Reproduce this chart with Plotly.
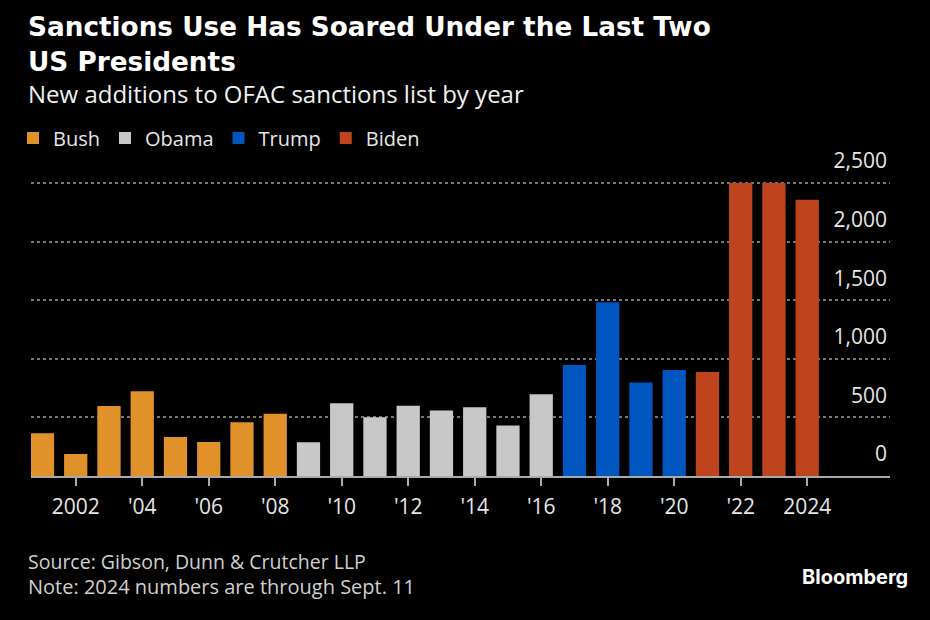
import plotly.graph_objects as go

# ---- data ----
years_bush = [2001, 2002, 2003, 2004, 2005, 2006, 2007, 2008]
vals_bush = [364, 188, 597, 723, 333, 290, 458, 532]
years_obama = [2009, 2010, 2011, 2012, 2013, 2014, 2015, 2016]
vals_obama = [288, 620, 501, 600, 558, 586, 430, 697]
years_trump = [2017, 2018, 2019, 2020]
vals_trump = [947, 1482, 797, 905]
years_biden = [2021, 2022, 2023, 2024]
vals_biden = [887, 2500, 2500, 2358]

x_tickvals = [2002, 2004, 2006, 2008, 2010, 2012, 2014, 2016, 2018, 2020, 2022, 2024]
x_ticktext = ["2002", "'04", "'06", "'08", "'10", "'12", "'14", "'16", "'18", "'20", "'22", "2024"]
y_tickvals = [0, 500, 1000, 1500, 2000, 2500]
y_ticktext = ["0", "500", "1,000", "1,500", "2,000", "2,500"]

series = [
    ("Bush", years_bush, vals_bush, "#E0912A"),
    ("Obama", years_obama, vals_obama, "#C8C8C8"),
    ("Trump", years_trump, vals_trump, "#0055BF"),
    ("Biden", years_biden, vals_biden, "#BE441E"),
]

W, H = 930, 620
L, R, T, B = 31, 40, 140, 144
PW, PH = W - L - R, H - T - B
YTOP = 2500 * PH / (H - B - 183)   # 2,500 gridline sits at y=183 px

def px(xpx):
    return (xpx - L) / PW

def py(ypx):
    return (H - B - ypx) / PH

REG = "Open Sans, Noto Sans, sans-serif"
BOLD = "DejaVu Sans, sans-serif"

fig = go.Figure()
for name, xs, ys, col in series:
    fig.add_trace(go.Bar(x=xs, y=ys, name=name, marker=dict(color=col, line=dict(width=0)),
                         width=0.7))

fig.update_layout(
    width=W, height=H,
    margin=dict(l=L, r=R, t=T, b=B, pad=0, autoexpand=False),
    paper_bgcolor="black", plot_bgcolor="black",
    showlegend=True,
    legend=dict(orientation="h", xref="container", yref="container",
                x=13 / W, y=1 - 138 / H, xanchor="left", yanchor="middle",
                font=dict(family=REG, size=20, color="#e6e6e6"),
                bgcolor="rgba(0,0,0,0)", traceorder="normal"),
    bargap=0.3,
    xaxis=dict(range=[2000.655, 2026.49], tickvals=x_tickvals, ticktext=x_ticktext,
               showgrid=False, zeroline=False, showline=True, linecolor="#aaaaaa", linewidth=2,
               ticks="outside", ticklen=8, tickwidth=1.5, tickcolor="#aaaaaa",
               ticklabelstandoff=3,
               tickfont=dict(family=REG, size=21, color="#e6e6e6"), fixedrange=True),
    yaxis=dict(range=[0, YTOP], side="right", tickvals=y_tickvals, ticktext=y_ticktext,
               ticklabelposition="inside", ticklabelshift=-22, ticks="",
               showgrid=True, gridcolor="#777777", gridwidth=1.5, griddash="dot",
               zeroline=False, showline=False,
               tickfont=dict(family=REG, size=21, color="#e6e6e6"), fixedrange=True),
)

annotations = [
    dict(text="<b>Sanctions Use Has Soared Under the Last Two</b>", x=px(26), y=py(27),
         font=dict(family=BOLD, size=26.3, color="white")),
    dict(text="<b>US Presidents</b>", x=px(26), y=py(62),
         font=dict(family=BOLD, size=26.3, color="white")),
    dict(text="New additions to OFAC sanctions list by year", x=px(26), y=py(93),
         font=dict(family=REG, size=24, color="#f0f0f0")),
    dict(text="Source: Gibson, Dunn & Crutcher LLP", x=px(26), y=py(561),
         font=dict(family=REG, size=19.5, color="#d0d0d0")),
    dict(text="Note: 2024 numbers are through Sept. 11", x=px(26), y=py(586),
         font=dict(family=REG, size=20, color="#d0d0d0")),
]
for a in annotations:
    a.update(xref="paper", yref="paper", xanchor="left", yanchor="middle", showarrow=False)
    fig.add_annotation(**a)

fig.add_annotation(text="<b>Bloomberg</b>", xref="paper", yref="paper", x=px(910), y=py(577),
                   xanchor="right", yanchor="middle", showarrow=False,
                   font=dict(family="Inter, sans-serif", size=20, color="white"))

fig.write_html("out.html", config={"displayModeBar": False})
